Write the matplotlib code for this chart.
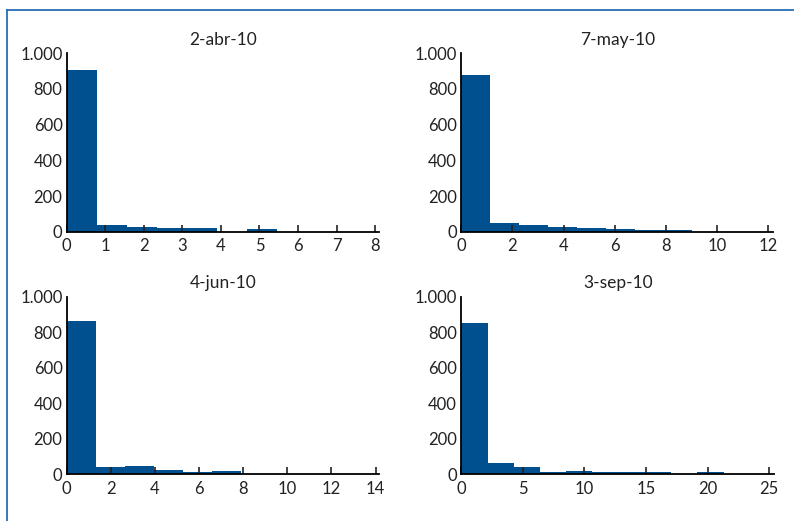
import matplotlib
matplotlib.use("Agg")
import matplotlib.pyplot as plt
import numpy as np

plt.rcParams['font.family'] = ['Lato', 'DejaVu Sans']

# panel titles and histogram data (bin width, counts per bin)
titles = ['2-abr-10', '7-may-10', '4-jun-10', '3-sep-10']
bin_widths = [0.78, 1.13, 1.32, 2.13]
counts_abr = [905, 38, 26, 20, 20, 0, 15, 0, 0, 1]
counts_may = [878, 49, 38, 26, 21, 15, 11, 10, 1, 1]
counts_jun = [863, 43, 47, 24, 15, 21, 0, 0, 0, 1]
counts_sep = [854, 64, 41, 15, 21, 13, 13, 13, 0, 13]
all_counts = [counts_abr, counts_may, counts_jun, counts_sep]

# axis limits and tick labels
x_max = [8.1, 12.2, 14.17, 25.4]
x_ticks = [np.arange(0, 9, 1), np.arange(0, 13, 2), np.arange(0, 15, 2), np.arange(0, 26, 5)]
y_ticks = [0, 200, 400, 600, 800, 1000]
y_labels = ['0', '200', '400', '600', '800', '1.000']

bar_color = '#00508f'
W, H = 794, 521

fig = plt.figure(figsize=(W / 100, H / 100), dpi=100)

# axes boxes in pixels: left, right, top, bottom
boxes = [(66.7, 379, 53.3, 231.7), (461.3, 773.3, 53.3, 231.7),
         (66.7, 379.3, 296.7, 474.3), (461.3, 774, 296.7, 474.3)]

for i in range(4):
    l, r, t, b = boxes[i]
    ax = fig.add_axes([l / W, 1 - b / H, (r - l) / W, (b - t) / H])
    counts = np.array(all_counts[i])
    edges = np.arange(len(counts) + 1) * bin_widths[i]
    ax.bar(edges[:-1], counts, width=np.diff(edges), align='edge',
           color=bar_color, edgecolor='none', linewidth=0)
    ax.set_xlim(0, x_max[i])
    ax.set_ylim(0, 1000)
    ax.set_xticks(x_ticks[i])
    ax.set_yticks(y_ticks)
    ax.set_yticklabels(y_labels)
    ax.spines['top'].set_visible(False)
    ax.spines['right'].set_visible(False)
    ax.spines['left'].set_linewidth(1.3)
    ax.spines['bottom'].set_linewidth(1.3)
    ax.tick_params(axis='x', direction='in', length=5, width=1.2, pad=4.5,
                   labelsize=12, colors='#222222')
    ax.tick_params(axis='y', length=0, pad=3, labelsize=12, colors='#222222')
    ax.set_title(titles[i], fontsize=12.5, pad=6, color='#222222')

# blue frame along top and left edges
frame_color = '#2a6db4'
fig.add_artist(plt.Line2D([6.7 / W, 6.7 / W], [0, 1 - 10 / H], color=frame_color, lw=1.3))
fig.add_artist(plt.Line2D([6.7 / W, 1], [1 - 10 / H, 1 - 10 / H], color=frame_color, lw=1.3))

fig.savefig('out.png', dpi=100)
